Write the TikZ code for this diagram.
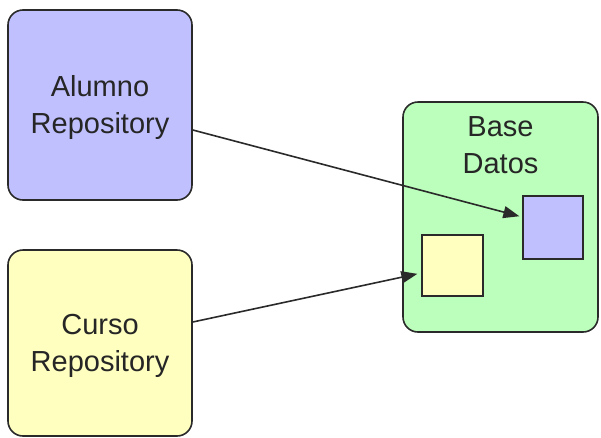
\documentclass[tikz,border=0pt]{standalone}
\usepackage{fontspec}
\setmainfont{Liberation Sans}
\usetikzlibrary{positioning,arrows.meta}

\definecolor{repoblue}{HTML}{C0C0FF}
\definecolor{repoyellow}{HTML}{FFFFC0}
\definecolor{dbgreen}{HTML}{BCFFBC}
\definecolor{edge}{HTML}{2A2A2A}

\begin{document}
\begin{tikzpicture}[x=1pt,y=-1pt,
  repo/.style={draw=edge,line width=1.6pt,rounded corners=15pt},
  label/.style={inner sep=0pt,align=center,
    font=\fontsize{29}{37}\selectfont,text=black!85},
  table/.style={draw=edge,line width=1.5pt,inner sep=0pt},
  link/.style={draw=edge,line width=1.6pt,-{Triangle[length=16pt,width=12pt]}}]
\useasboundingbox (0,0) rectangle (601,437);
% repositories
\node (alumno) [repo,fill=repoblue,minimum width=184pt,minimum height=190pt]
  at (100,105) {};
\node (alumnotxt) [label] at ([yshift=-2pt]alumno.center) {Alumno\\Repository};
\node (curso) [repo,fill=repoyellow,minimum width=184pt,minimum height=186pt]
  at (100,343) {};
\node (cursotxt) [label] at ([yshift=-3pt]curso.center) {Curso\\Repository};
% database
\node (base) [repo,fill=dbgreen,minimum width=195pt,minimum height=230pt]
  at (500.5,217) {};
\node (basetxt) [label,below=15pt of base.north] {Base\\Datos};
\node (tabalumno) [table,fill=repoblue,minimum width=60pt,minimum height=63pt]
  at (553,227.5) {};
\node (tabcurso) [table,fill=repoyellow,minimum width=61pt,minimum height=61pt]
  at (452.5,265.5) {};
% links
\draw[link,shorten >=3pt] ([yshift=-25pt]alumno.east) -- ([yshift=10.5pt]tabalumno.west);
\draw[link,shorten >=4pt] ([yshift=21pt]curso.east) -- ([yshift=-7.5pt]tabcurso.west);
\end{tikzpicture}
\end{document}
